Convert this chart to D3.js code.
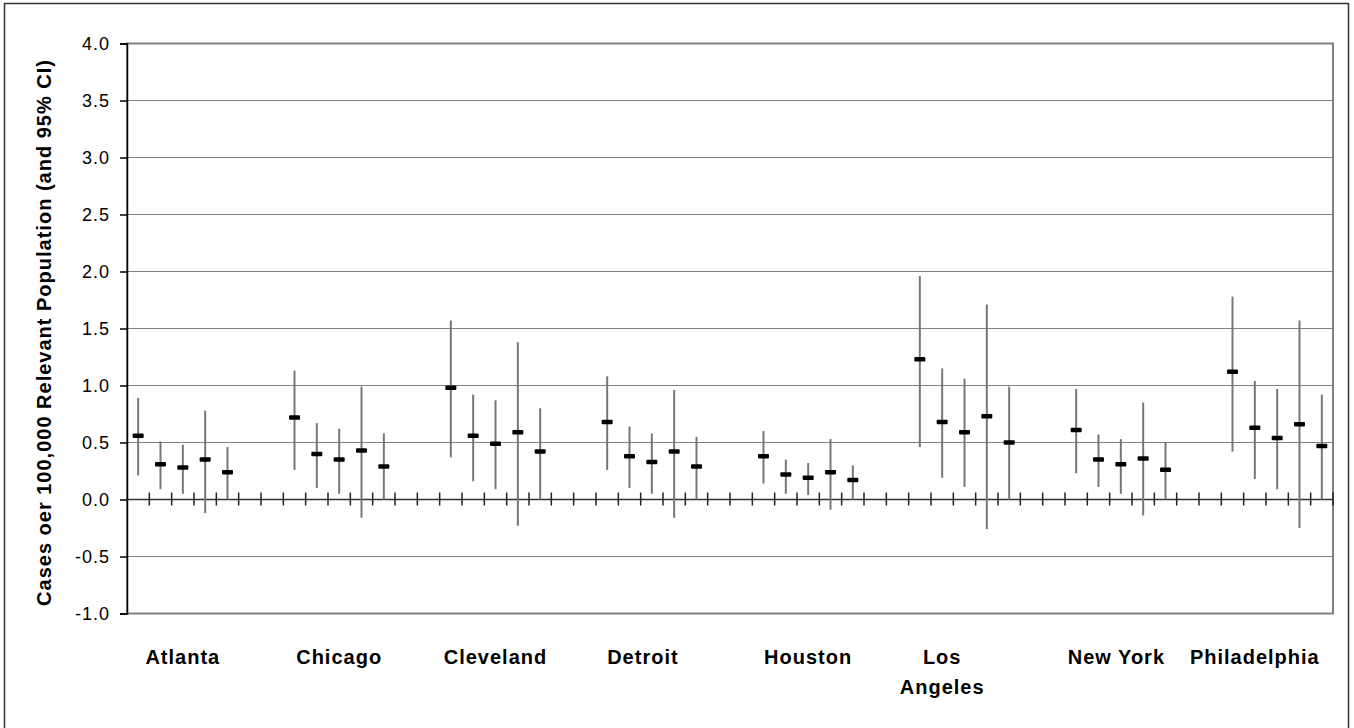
<!DOCTYPE html>
<html>
<head>
<meta charset="utf-8">
<script src="https://cdn.jsdelivr.net/npm/d3@7"></script>
<style>
  html, body { margin: 0; padding: 0; background: #fff; }
  svg { display: block; font-family: 'Liberation Sans', Arial, sans-serif; }
</style>
</head>
<body>
<div id="chart"></div>
<script>
const cities = ['Atlanta', 'Chicago', 'Cleveland', 'Detroit', 'Houston', 'Los Angeles', 'New York', 'Philadelphia'];

// point estimate per city, 5 groups each
const means = [
  [0.56, 0.31, 0.28, 0.35, 0.24],
  [0.72, 0.40, 0.35, 0.43, 0.29],
  [0.98, 0.56, 0.49, 0.59, 0.42],
  [0.68, 0.38, 0.33, 0.42, 0.29],
  [0.38, 0.22, 0.19, 0.24, 0.17],
  [1.23, 0.68, 0.59, 0.73, 0.50],
  [0.61, 0.35, 0.31, 0.36, 0.26],
  [1.12, 0.63, 0.54, 0.66, 0.47]
];

// 95% CI bounds
const lower = [
  [0.21, 0.09, 0.05, -0.12, 0.00],
  [0.26, 0.10, 0.05, -0.16, 0.00],
  [0.37, 0.16, 0.09, -0.23, 0.00],
  [0.26, 0.10, 0.05, -0.16, 0.00],
  [0.14, 0.05, 0.04, -0.09, 0.00],
  [0.46, 0.19, 0.11, -0.26, 0.00],
  [0.23, 0.11, 0.05, -0.14, 0.00],
  [0.42, 0.18, 0.09, -0.25, 0.00]
];
const upper = [
  [0.89, 0.51, 0.48, 0.78, 0.46],
  [1.13, 0.67, 0.62, 0.99, 0.58],
  [1.57, 0.92, 0.87, 1.38, 0.80],
  [1.08, 0.64, 0.58, 0.96, 0.55],
  [0.60, 0.35, 0.32, 0.53, 0.30],
  [1.96, 1.15, 1.06, 1.71, 0.99],
  [0.97, 0.57, 0.53, 0.85, 0.50],
  [1.78, 1.04, 0.97, 1.57, 0.92]
];

const yTicks = [-1.0, -0.5, 0.0, 0.5, 1.0, 1.5, 2.0, 2.5, 3.0, 3.5, 4.0];
// category slot (in axis units) where each city label sits
const labelSlots = [2, 9, 16, 22.6, 30, 36, 43.8, 50];

const slotsPerCity = 7;
const nSlots = 54;
const yTitle = 'Cases oer 100,000 Relevant Population (and 95% CI)';

const W = 1354, H = 728;
const plot = { left: 127, right: 1333, top: 43.5, bottom: 613.5 };

const svg = d3.select('#chart').append('svg')
  .attr('width', W).attr('height', H);

svg.append('rect').attr('width', W).attr('height', H).attr('fill', '#fff');

// outer chart frame
svg.append('rect')
  .attr('x', 4.5).attr('y', 3.5)
  .attr('width', 1344).attr('height', 760)
  .attr('fill', 'none').attr('stroke', '#333').attr('stroke-width', 1.5);

const x = d3.scaleBand().domain(d3.range(nSlots)).range([plot.left, plot.right]).padding(0);
const xc = i => x(i) + x.bandwidth() / 2;
const xs = s => plot.left + (s + 0.5) * x.bandwidth();
const y = d3.scaleLinear().domain([-1, 4]).range([plot.bottom, plot.top]);

// gridlines
svg.append('g').selectAll('line')
  .data(yTicks).enter().append('line')
  .attr('x1', plot.left).attr('x2', plot.right)
  .attr('y1', d => y(d)).attr('y2', d => y(d))
  .attr('stroke', '#808080').attr('stroke-width', 1);

// plot border
svg.append('rect')
  .attr('x', plot.left).attr('y', plot.top)
  .attr('width', plot.right - plot.left).attr('height', plot.bottom - plot.top)
  .attr('fill', 'none').attr('stroke', '#808080').attr('stroke-width', 2);

// y axis
const yAxis = svg.append('g')
  .attr('transform', `translate(${plot.left},0)`)
  .call(d3.axisLeft(y).tickValues(yTicks).tickFormat(d => d.toFixed(1)).tickSize(7).tickPadding(10));
yAxis.select('.domain').attr('stroke', '#000').attr('stroke-width', 1.5);
yAxis.selectAll('line').attr('stroke', '#000').attr('stroke-width', 1.5);
yAxis.selectAll('text')
  .attr('fill', '#000').attr('font-size', '18px')
  .attr('font-family', "'Liberation Sans', Arial, sans-serif")
  .style('letter-spacing', '1px');

// x axis across zero, cross tick marks at category boundaries
const x0 = y(0);
svg.append('line')
  .attr('x1', plot.left).attr('x2', plot.right)
  .attr('y1', x0).attr('y2', x0)
  .attr('stroke', '#333').attr('stroke-width', 1.5);
svg.append('g').selectAll('line')
  .data(d3.range(1, nSlots + 1)).enter().append('line')
  .attr('x1', d => x(d - 1) + x.bandwidth()).attr('x2', d => x(d - 1) + x.bandwidth())
  .attr('y1', x0 - 7).attr('y2', x0 + 6)
  .attr('stroke', '#222').attr('stroke-width', 1.5);

// error bars
const points = [];
cities.forEach((c, ci) => {
  means[ci].forEach((m, j) => {
    points.push({ slot: ci * slotsPerCity + j, mean: m, lo: lower[ci][j], hi: upper[ci][j] });
  });
});

svg.append('g').selectAll('line')
  .data(points).enter().append('line')
  .attr('x1', d => xc(d.slot)).attr('x2', d => xc(d.slot))
  .attr('y1', d => y(d.lo)).attr('y2', d => y(d.hi))
  .attr('stroke', '#777').attr('stroke-width', 2);

svg.append('g').selectAll('rect')
  .data(points).enter().append('rect')
  .attr('x', d => xc(d.slot) - 5.5).attr('y', d => y(d.mean) - 2.25)
  .attr('width', 11).attr('height', 4.5).attr('rx', 1)
  .attr('fill', '#000');

// city labels
const labels = svg.append('g')
  .attr('font-size', '20px').attr('font-weight', 'bold')
  .attr('text-anchor', 'middle').attr('fill', '#000')
  .style('letter-spacing', '1px');
cities.forEach((c, i) => {
  const words = c === 'Los Angeles' ? ['Los', 'Angeles'] : [c];
  const t = labels.append('text').attr('x', xs(labelSlots[i])).attr('y', 664);
  words.forEach((w, k) => {
    t.append('tspan').attr('x', xs(labelSlots[i])).attr('dy', k === 0 ? 0 : 30).text(w);
  });
});

// y axis title
svg.append('text')
  .attr('transform', `translate(51,${(plot.top + plot.bottom) / 2 + 4}) rotate(-90)`)
  .attr('text-anchor', 'middle')
  .attr('font-size', '20px').attr('font-weight', 'bold').attr('fill', '#000')
  .style('letter-spacing', '1px')
  .text(yTitle);
</script>
</body>
</html>
